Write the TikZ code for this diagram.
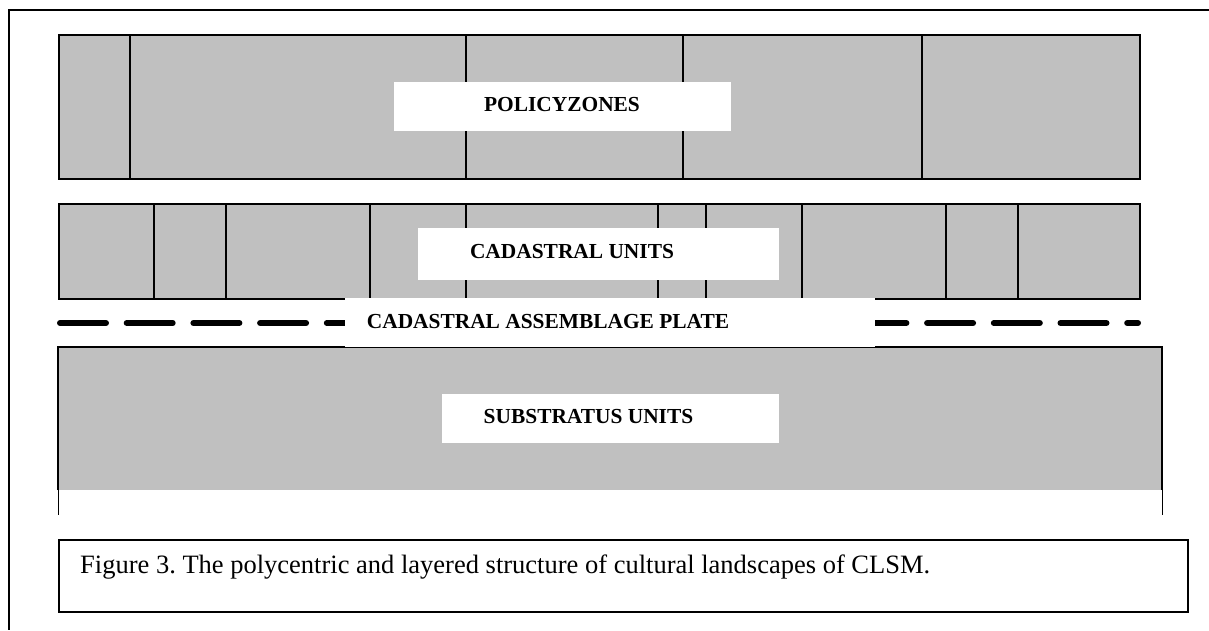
\documentclass[tikz,border=0pt]{standalone}
\usepackage{fontspec}
\setmainfont{Liberation Serif}
\definecolor{zonegray}{RGB}{192,192,192}
\begin{document}
\frenchspacing
\begin{tikzpicture}[x=1pt,y=-1pt,
  layerbox/.style={fill=zonegray,draw=black,line width=2pt},
  divider/.style={draw=black,line width=1.8pt},
  labelbox/.style={fill=white,draw=none,inner sep=0pt,minimum width=#1},
  lbl/.style={font=\fontsize{21.4}{24}\selectfont\bfseries,inner sep=0pt},
  captext/.style={font=\fontsize{26.5}{30}\selectfont,inner sep=0pt}]
\useasboundingbox (0,0) rectangle (1209,630);
% outer frame
\draw[line width=2pt] (1209,10) -- (9,10) -- (9,630);
% policy zones layer
\node[layerbox,minimum width=1081pt,minimum height=144pt,anchor=north west,inner sep=0pt,line width=2pt] (pz) at (58,34) {};
\foreach \x in {130,466,683,922}{\draw[divider] (\x,34) -- (\x,178);}
\node[labelbox=337pt,minimum height=49pt] (pzbox) at (562.5,106.5) {};
\node[lbl] (pztext) at (562,105) {POLICYZONES};
% cadastral units layer
\node[layerbox,minimum width=1081pt,minimum height=95pt,anchor=north west,inner sep=0pt] (cu) at (58,203) {};
\foreach \x in {154,226,370,466,658,706,802,946,1018}{\draw[divider] (\x,203) -- (\x,298);}
\node[labelbox=361pt,minimum height=52pt] (cubox) at (598.5,254) {};
\node[lbl] (cutext) at (572,252) {CADASTRAL UNITS};
% substratus layer
\fill[zonegray] (58,347) rectangle (1162,490);
\draw[line width=2pt] (58,490) -- (58,347) -- (1162,347) -- (1162,490);
\coordinate (sbl) at (58,490);
\coordinate (sbr) at (1162,490);
\coordinate (sbl2) at (58,515);
\coordinate (sbr2) at (1162,515);
\draw[line width=1pt] (sbl) -- (sbl2);
\draw[line width=1pt] (sbr) -- (sbr2);
\node[labelbox=337pt,minimum height=49pt] (subox) at (610.5,418.5) {};
\node[lbl] (sutext) at (588.5,416.5) {SUBSTRATUS UNITS};
% cadastral assemblage plate (dashed line)
\coordinate (dl) at (60,323);
\coordinate (dr) at (1138,323);
\draw[line width=6pt,line cap=round,dash pattern=on 46pt off 20.7pt] (dl) -- (dr);
\node[labelbox=530pt,minimum height=49pt] (platebox) at (610,322.5) {};
\node[lbl] (platetext) at (548,322) {CADASTRAL ASSEMBLAGE PLATE};
% caption
\node[draw=black,line width=2pt,fill=white,minimum width=1129pt,minimum height=72pt,anchor=north west,inner sep=0pt] (capbox) at (58,539) {};
\node[captext,anchor=base west] (captext) at (80,573) {Figure 3. The polycentric and layered structure of cultural landscapes of CLSM.};
\end{tikzpicture}
\end{document}
